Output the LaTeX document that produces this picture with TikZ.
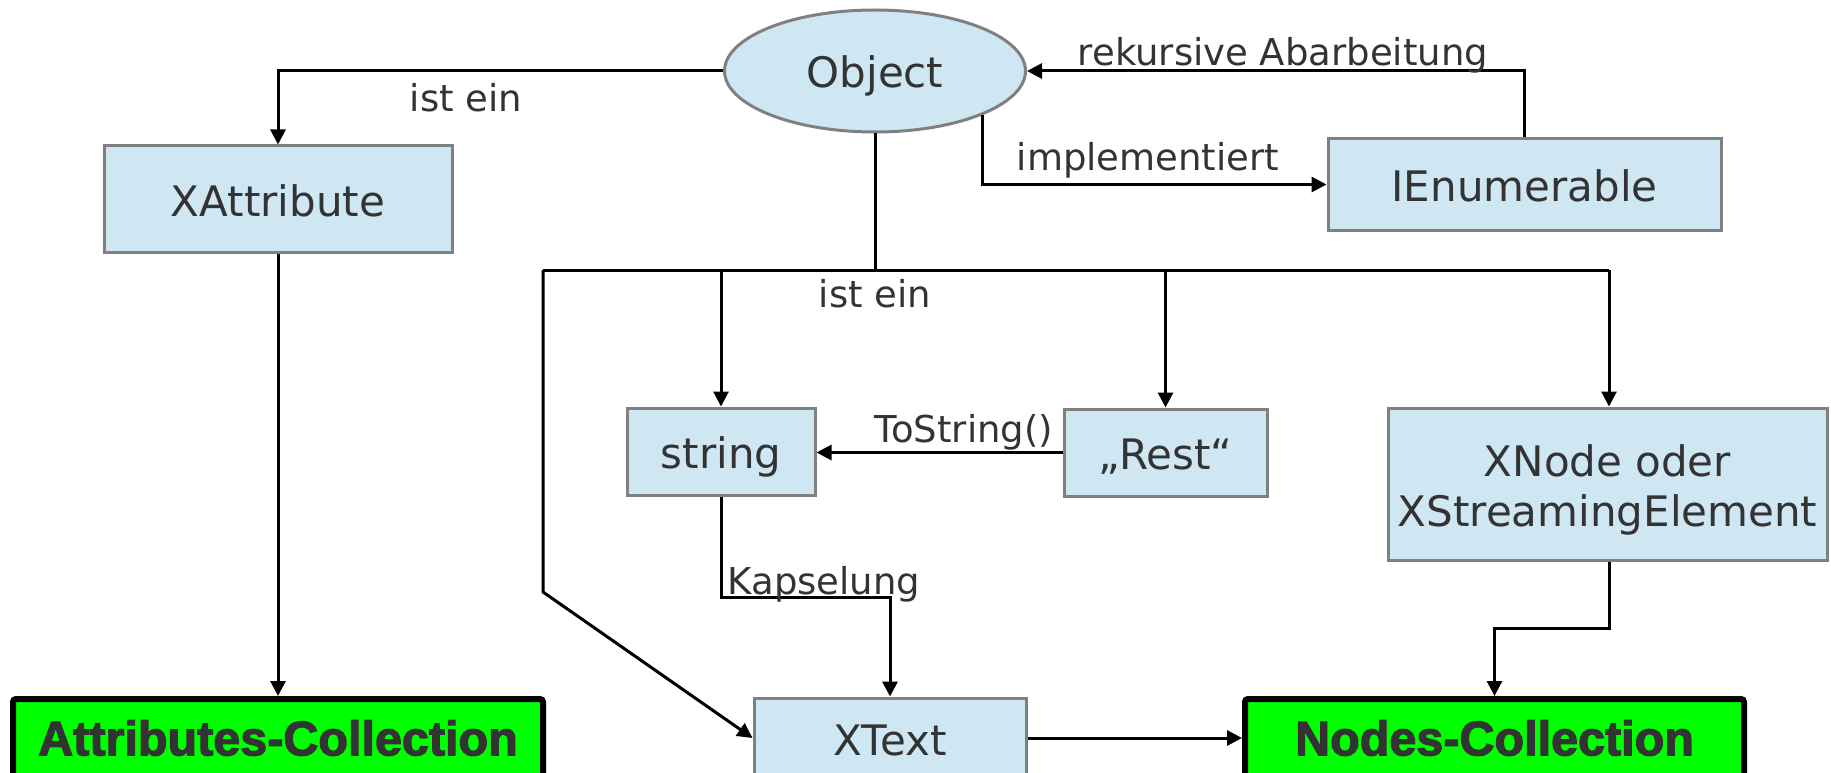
\documentclass[tikz,border=0pt]{standalone}
\usepackage{fontspec}
\setmainfont{DejaVu Sans}
\newfontfamily\boldlabel[FakeBold=2.5]{Liberation Sans Bold}
\usetikzlibrary{arrows.meta,shapes.geometric}
\definecolor{boxfill}{RGB}{207,230,243}
\definecolor{boxline}{RGB}{128,128,128}
\definecolor{txt}{RGB}{51,51,51}
\definecolor{hilite}{RGB}{0,255,0}
\tikzset{
  cls/.style={draw=boxline, fill=boxfill, line width=3pt, text=txt,
    font=\fontsize{42}{50}\selectfont, inner sep=0pt, align=center},
  oneline/.style={text height=34pt, text depth=0pt},
  coll/.style={draw=black, fill=hilite, line width=6pt, rounded corners=3pt,
    text=txt, font=\boldlabel\fontsize{48.5}{56}\selectfont, inner sep=0pt},
  arr/.style={line width=3pt, -{Triangle[length=15pt,width=15pt]}},
  ln/.style={line width=3pt},
  lbl/.style={text=txt, font=\fontsize{37}{44}\selectfont, inner sep=0pt}
}
\begin{document}
\begin{tikzpicture}[x=1pt,y=-1pt]
\useasboundingbox (0,0) rectangle (1831,773);
\begin{scope}
\clip (0,0) rectangle (1831,773);

% class nodes
\node[cls, oneline, ellipse, minimum width=301pt, minimum height=122pt] (obj) at (875,71) {Object};
\node[cls, oneline, minimum width=348pt, minimum height=106pt] (xattr) at (278,199) {XAttribute};
\node[cls, oneline, minimum width=393pt, minimum height=91pt] (ienum) at (1524.5,184.5) {IEnumerable};
\node[cls, oneline, minimum width=188pt, minimum height=87pt] (str) at (721,451.5) {string};
\node[cls, oneline, minimum width=203pt, minimum height=87pt] (rest) at (1165.5,452.5) {„Rest“};
\node[cls, minimum width=439pt, minimum height=152pt] (xnode) at (1607.5,484) {\rule{0pt}{44pt}XNode oder\\XStreamingElement};
\node[cls, oneline, minimum width=272pt, minimum height=80pt] (xtext) at (890,738) {XText};

% collections
\node[coll, minimum width=530pt, minimum height=78pt] (attrc) at (278,738) {Attributes-Collection};
\node[coll, minimum width=499pt, minimum height=78pt] (nodesc) at (1494.5,738) {Nodes-Collection};

% inheritance of XAttribute
\draw[arr] (obj.west) -| (xattr.north);
\node[lbl] (l1) at (466,98) {ist ein};

% recursion and interface
\draw[arr] (ienum.north) |- (obj.east);
\node[lbl] (l2) at (1283,55) {rekursive Abarbeitung};
\draw[arr] (obj.south east) |- (ienum.west);
\node[lbl] (l3) at (1148,160) {implementiert};

% distribution bus below Object
\coordinate (bus) at (875,270);
\coordinate (busL) at (543,270);
\coordinate (busR) at (1609,270);
\coordinate (bend) at (543,592);
\draw[ln] (obj.south) -- (bus);
\draw[ln] (busL) -- (busR);
\node[lbl] (l4) at (875,294) {ist ein};
\draw[arr] (str.north |- bus) -- (str.north);
\draw[arr] (rest.north |- bus) -- (rest.north);
\draw[arr] (busR) -- (xnode.north -| busR);
\draw[arr] (busL) -- (bend) -- (xtext.west);

% conversions
\draw[arr] (rest.west) -- (rest.west -| str.east);
\node[lbl] (l5) at (964,432) {ToString()};
\coordinate (kap) at (721,597);
\draw[arr] (str.south) -- (kap) -| (xtext.north);
\node[lbl] (l6) at (824,584) {Kapselung};

% into the collections
\draw[arr] (xtext.east) -- (nodesc.west);
\coordinate (xn) at (1609,628);
\draw[arr] (xnode.south -| xn) -- (xn) -| (nodesc.north);
\draw[arr] (xattr.south) -- (attrc.north);
\end{scope}
\end{tikzpicture}
\end{document}
